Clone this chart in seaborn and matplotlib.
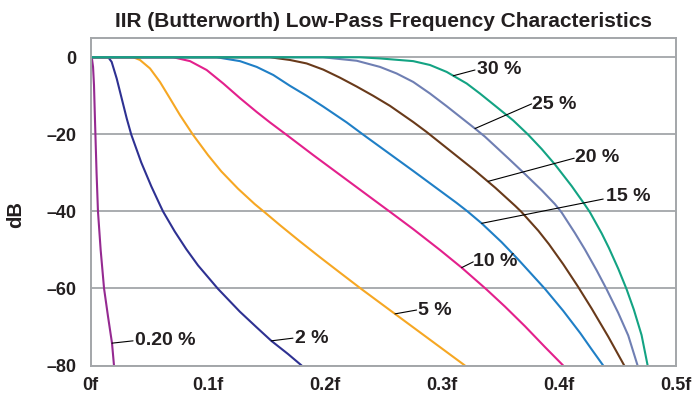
import pandas as pd
import seaborn as sns
import matplotlib
matplotlib.use("Agg")
import matplotlib.pyplot as plt

# values (f as fraction of sample rate, attenuation in dB)
labels = ["0.20 %", "2 %", "5 %", "10 %", "15 %", "20 %", "25 %", "30 %"]
colors = ["#952a91", "#2e3192", "#f6a723", "#e3208c", "#1f7fc6", "#693a1a", "#6f7fb3", "#13a383"]

f_020 = [0, 0.0009, 0.0020, 0.0028, 0.0037, 0.0050, 0.0062, 0.0085, 0.0114, 0.0148, 0.0182, 0.0199]
db_020 = [0, 0, -2.5, -7.2, -16.8, -30, -40, -50, -60, -67.3, -74.2, -80]

f_2 = [0, 0.0150, 0.0179, 0.0222, 0.0265, 0.0308, 0.0347, 0.0432, 0.0518, 0.0590, 0.0618,
       0.0718, 0.0817, 0.0917, 0.1088, 0.1274, 0.1415, 0.1544, 0.1686, 0.1803]
db_2 = [0, 0, -1.2, -5.5, -10.7, -15.9, -20.1, -27.3, -33.5, -38.2, -40,
        -45.2, -49.8, -54.0, -60.1, -66.0, -70.0, -73.6, -77.0, -80]

f_5 = [0, 0.0364, 0.0421, 0.0507, 0.0592, 0.0678, 0.0763, 0.0874, 0.1003, 0.1116, 0.1259,
       0.1402, 0.1494, 0.1619, 0.1789, 0.1960, 0.2131, 0.2316, 0.2601, 0.2900, 0.3199]
db_5 = [0, 0, -0.7, -2.9, -6.4, -10.7, -15, -20.1, -25.4, -29.6, -34.1,
        -38.1, -40.4, -43.6, -47.8, -51.9, -55.9, -60.2, -66.6, -73.3, -80]

f_10 = [0, 0.0706, 0.0849, 0.0991, 0.1133, 0.1276, 0.1419, 0.1532, 0.1686, 0.1903, 0.2188,
        0.2473, 0.2558, 0.2757, 0.2985, 0.3171, 0.3385, 0.3541, 0.3712, 0.3883, 0.4039]
db_10 = [0, 0, -1.0, -3.3, -6.8, -10.6, -14.2, -16.9, -20.4, -25.4, -31.8,
         -38.2, -40.1, -44.6, -50.0, -54.6, -60.3, -64.7, -69.8, -75.2, -80]

f_15 = [0, 0.1077, 0.1276, 0.1419, 0.1561, 0.1703, 0.1846, 0.1988, 0.2188, 0.2330, 0.2757,
        0.3128, 0.3221, 0.3342, 0.3513, 0.3655, 0.3883, 0.4039, 0.4185, 0.4282, 0.4381]
db_15 = [0, 0, -1.0, -2.5, -4.6, -7.4, -10.0, -12.8, -16.9, -20.1, -29.5,
         -37.8, -40, -43.1, -48.0, -52.5, -60.1, -65.8, -71.6, -75.8, -80]

f_20 = [0, 0.1533, 0.1703, 0.1846, 0.1988, 0.2131, 0.2274, 0.2415, 0.2558, 0.2757, 0.2872,
        0.3285, 0.3460, 0.3630, 0.3681, 0.3826, 0.3917, 0.4039, 0.4165, 0.4282, 0.4424, 0.4561]
db_20 = [0, 0, -0.7, -1.6, -3.2, -5.3, -7.6, -10.0, -12.6, -16.8, -19.4,
         -29.4, -33.9, -38.6, -40.1, -45.0, -48.5, -53.7, -59.5, -65.2, -72.5, -80]

f_25 = [0, 0.1985, 0.2274, 0.2473, 0.2615, 0.2757, 0.2900, 0.3043, 0.3214, 0.3285, 0.3370,
        0.3569, 0.3712, 0.3855, 0.3968, 0.4026, 0.4139, 0.4225, 0.4325, 0.4410, 0.4509,
        0.4595, 0.4675]
db_25 = [0, 0, -0.9, -2.5, -4.2, -6.4, -9.4, -12.7, -16.8, -18.5, -20.6,
         -26.2, -30.3, -34.5, -38.1, -40.3, -45.6, -49.9, -55.3, -60.2, -66.3,
         -72.2, -80]

f_30 = [0, 0.2300, 0.2473, 0.2757, 0.2900, 0.3043, 0.3214, 0.3327, 0.3470, 0.3612, 0.3740,
        0.3855, 0.3968, 0.4111, 0.4225, 0.4267, 0.4368, 0.4430, 0.4510, 0.4581, 0.4643,
        0.4709, 0.4761]
db_30 = [0, 0, -0.3, -1.0, -2.0, -3.8, -6.8, -9.4, -12.9, -16.4, -20.1,
         -23.8, -27.8, -33.4, -38.3, -40.2, -45.7, -49.5, -54.9, -60.2, -65.5,
         -72.1, -80]

all_f = [f_020, f_2, f_5, f_10, f_15, f_20, f_25, f_30]
all_db = [db_020, db_2, db_5, db_10, db_15, db_20, db_25, db_30]

# label text position and leader line (curve point -> text point)
lab_x = [0.0379, 0.1746, 0.2797, 0.3272, 0.4404, 0.4144, 0.3772, 0.3302]
lab_y = [-73.4, -72.9, -65.6, -53.0, -36.2, -26.1, -12.3, -3.3]
lead_x0 = [0.0182, 0.1544, 0.2601, 0.3171, 0.3342, 0.3398, 0.3285, 0.3099]
lead_y0 = [-74.2, -73.6, -66.6, -54.6, -43.1, -32.2, -18.5, -4.8]
lead_x1 = [0.0362, 0.1729, 0.2786, 0.3270, 0.4381, 0.4133, 0.3769, 0.3285]
lead_y1 = [-73.6, -72.9, -65.6, -53.1, -36.8, -26.2, -12.1, -3.3]

rows = []
for lab, fs, dbs in zip(labels, all_f, all_db):
    for f, d in zip(fs, dbs):
        rows.append({"cutoff": lab, "f": f, "dB": d})
df = pd.DataFrame(rows)

sns.set_style("white")
plt.rcParams["font.family"] = ["Liberation Sans", "DejaVu Sans"]
plt.rcParams["font.weight"] = "bold"

fig = plt.figure(figsize=(6.93, 3.96), dpi=100)
ax = fig.add_axes([0.1309, 0.077, 0.844, 0.827])

gray = "#a3a6a9"
for yv in [-80, -60, -40, -20, 0]:
    ax.axhline(yv, color=gray, lw=1.3, zorder=0)

sns.lineplot(data=df, x="f", y="dB", hue="cutoff", hue_order=labels,
             palette=colors, linewidth=1.5, legend=False, ax=ax, sort=False)

for i in range(len(labels)):
    ax.plot([lead_x0[i], lead_x1[i]], [lead_y0[i], lead_y1[i]], color="black", lw=0.8)
    ax.text(lab_x[i], lab_y[i], labels[i], fontsize=14, fontweight="bold",
            color="#231f20", ha="left", va="center")

ax.set_xlim(0, 0.5)
ax.set_ylim(-80, 5)
ax.set_xticks([0, 0.1, 0.2, 0.3, 0.4, 0.5])
ax.set_xticklabels(["0f", "0.1f", "0.2f", "0.3f", "0.4f", "0.5f"])
ax.set_yticks([-80, -60, -40, -20, 0])
ax.set_yticklabels(["\u201380", "\u201360", "\u201340", "\u201320", "0"])
ax.tick_params(axis="x", direction="in", length=5, width=1, color="#444444",
               pad=8, labelsize=13, labelcolor="#231f20")
ax.tick_params(axis="y", direction="out", length=3, width=1, color="#444444",
               pad=7, labelsize=13, labelcolor="#231f20")
for lab in ax.get_xticklabels() + ax.get_yticklabels():
    lab.set_fontweight("bold")

for s in ax.spines.values():
    s.set_color(gray)
    s.set_linewidth(1.4)

ax.set_xlabel("")
ax.set_ylabel("dB", fontsize=14.5, fontweight="bold", color="#231f20")
ax.yaxis.set_label_coords(-0.112, 0.46)
ax.set_title("IIR (Butterworth) Low-Pass Frequency Characteristics",
             fontsize=15, fontweight="bold", color="#231f20", pad=8)

fig.savefig("out.png", dpi=100)
